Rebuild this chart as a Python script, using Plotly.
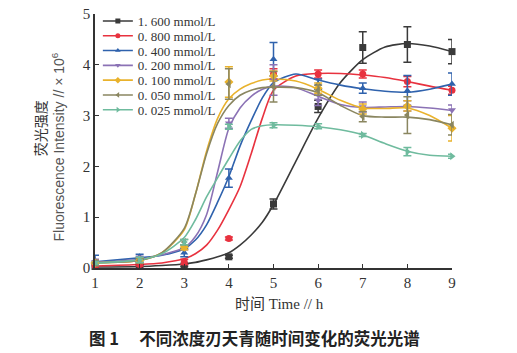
import plotly.graph_objects as go

# ---------------- data ----------------
times = [1, 2, 3, 4, 5, 6, 7, 8, 9]
series_names = ["1. 600 mmol/L", "0. 800 mmol/L", "0. 400 mmol/L", "0. 200 mmol/L",
                "0. 100 mmol/L", "0. 050 mmol/L", "0. 025 mmol/L"]

pts_1600 = [0.03, 0.04, 0.05, 0.22, 1.26, 3.18, 4.34, 4.40, 4.26]
pts_0800 = [0.05, 0.07, 0.12, 0.58, 3.82, 3.82, 3.82, 3.67, 3.50]
pts_0400 = [0.15, 0.22, 0.30, 1.77, 4.11, 3.62, 3.54, 3.49, 3.62]
pts_0200 = [0.12, 0.18, 0.41, 2.85, 3.70, 3.30, 3.17, 3.19, 3.11]
pts_0100 = [0.10, 0.15, 0.41, 3.66, 3.78, 3.54, 3.13, 3.19, 2.75]
pts_0050 = [0.10, 0.15, 0.51, 3.62, 3.57, 3.50, 2.98, 3.01, 2.82]
pts_0025 = [0.10, 0.16, 0.51, 2.78, 2.81, 2.79, 2.62, 2.29, 2.20]

err_1600 = [0.02, 0.02, 0.02, 0.03, 0.10, 0.12, 0.31, 0.35, 0.24]
err_0800 = [0.03, 0.03, 0.05, 0.03, 0.10, 0.08, 0.08, 0.10, 0.08]
err_0400 = [0.10, 0.05, 0.08, 0.18, 0.33, 0.10, 0.10, 0.30, 0.22]
err_0200 = [0.05, 0.05, 0.05, 0.10, 0.30, 0.10, 0.10, 0.10, 0.10]
err_0100 = [0.05, 0.05, 0.05, 0.30, 0.10, 0.10, 0.10, 0.10, 0.25]
err_0050 = [0.05, 0.05, 0.05, 0.30, 0.30, 0.10, 0.10, 0.36, 0.20]
err_0025 = [0.03, 0.05, 0.05, 0.05, 0.05, 0.05, 0.03, 0.08, 0.04]

# fitted curves (values at these times)
fit_t = [1, 2, 2.5, 3, 3.25, 3.5, 3.75, 4, 4.25, 4.5, 4.75, 5, 5.5, 6, 6.5, 7, 7.5, 8, 8.5, 9]
fit_1600 = [0.02, 0.03, 0.05, 0.08, 0.11, 0.16, 0.22, 0.30, 0.45, 0.65, 0.90, 1.25, 2.10, 2.95, 3.65, 4.10, 4.35, 4.42, 4.37, 4.26]
fit_0800 = [0.04, 0.07, 0.10, 0.18, 0.28, 0.45, 0.75, 1.15, 1.60, 2.25, 2.95, 3.50, 3.78, 3.83, 3.83, 3.80, 3.75, 3.67, 3.58, 3.50]
fit_0400 = [0.12, 0.20, 0.25, 0.38, 0.55, 0.85, 1.30, 1.80, 2.40, 2.90, 3.35, 3.65, 3.82, 3.70, 3.60, 3.53, 3.48, 3.46, 3.52, 3.62]
fit_0200 = [0.11, 0.17, 0.26, 0.40, 0.62, 1.05, 1.90, 2.75, 3.15, 3.38, 3.52, 3.58, 3.55, 3.38, 3.22, 3.16, 3.17, 3.18, 3.15, 3.10]
fit_0100 = [0.10, 0.15, 0.30, 0.75, 1.45, 2.30, 2.95, 3.33, 3.52, 3.63, 3.70, 3.72, 3.68, 3.52, 3.30, 3.15, 3.14, 3.15, 3.00, 2.75]
fit_0050 = [0.10, 0.15, 0.30, 0.78, 1.45, 2.25, 2.85, 3.20, 3.40, 3.50, 3.55, 3.56, 3.55, 3.45, 3.20, 3.00, 2.97, 2.97, 2.92, 2.82]
fit_0025 = [0.10, 0.16, 0.28, 0.60, 0.95, 1.40, 1.78, 2.15, 2.50, 2.73, 2.80, 2.82, 2.81, 2.78, 2.72, 2.62, 2.45, 2.30, 2.22, 2.20]

x_ticks = [1, 2, 3, 4, 5, 6, 7, 8, 9]
y_ticks = [0, 1, 2, 3, 4, 5]

# ---------------- styles ----------------
colors = ["#3a3a3a", "#e8323f", "#2f62ad", "#8b72b5", "#e9b22c", "#8a8660", "#6fbb9e"]
symbols = ["square", "circle", "triangle-up", "triangle-down", "diamond", "triangle-left", "triangle-right"]
points = [pts_1600, pts_0800, pts_0400, pts_0200, pts_0100, pts_0050, pts_0025]
errors = [err_1600, err_0800, err_0400, err_0200, err_0100, err_0050, err_0025]
fits = [fit_1600, fit_0800, fit_0400, fit_0200, fit_0100, fit_0050, fit_0025]

SERIF = "Liberation Serif, Times New Roman, serif"
SANS = "Liberation Sans, Arial, sans-serif"
CJK = "Noto Sans CJK SC, sans-serif"

fig = go.Figure()
# curves first (behind points)
for name, col, fy in zip(series_names, colors, fits):
    fig.add_trace(go.Scatter(x=fit_t, y=fy, mode="lines", showlegend=False,
                             line=dict(color=col, width=1.6, shape="spline", smoothing=0.7),
                             hoverinfo="skip"))
for name, col, sym, py, pe in zip(series_names, colors, symbols, points, errors):
    fig.add_trace(go.Scatter(x=times, y=py, mode="markers", showlegend=False, name=name,
                             marker=dict(color=col, symbol=sym, size=7),
                             error_y=dict(type="data", array=pe, visible=True, color=col,
                                          thickness=1.5, width=4),
                             cliponaxis=False))
# legend entries (line + marker)
for name, col, sym in zip(series_names, colors, symbols):
    fig.add_trace(go.Scatter(x=[None], y=[None], mode="lines+markers", name=name,
                             line=dict(color=col, width=1.6),
                             marker=dict(color=col, symbol=sym, size=5)))

axis_common = dict(showline=True, linecolor="#333333", linewidth=1.5, ticks="inside",
                   ticklen=4, tickwidth=1.3, tickcolor="#333333", showgrid=False,
                   zeroline=False, automargin=False,
                   tickfont=dict(family=SERIF, size=15, color="#333333"))

fig.update_layout(
    width=517, height=353,
    margin=dict(l=95, r=65, t=14, b=85, autoexpand=False),
    paper_bgcolor="white", plot_bgcolor="white",
    xaxis=dict(range=[1, 9], tickvals=x_ticks, **axis_common),
    yaxis=dict(range=[0, 5], tickvals=y_ticks, **axis_common),
    legend=dict(x=0.008, y=1.0, xanchor="left", yanchor="top",
                bgcolor="rgba(0,0,0,0)", borderwidth=0,
                font=dict(family=SERIF, size=13, color="#333333"),
                itemwidth=30, tracegroupgap=0),
    showlegend=True,
)

fig.add_annotation(text="荧光强度", xref="paper", yref="paper", x=-0.154, y=0.55,
                   xanchor="center", yanchor="middle", textangle=-90, showarrow=False,
                   font=dict(family=CJK, size=14, color="#333333"))
fig.add_annotation(text="Fluorescence Intensity // × 10<sup>6</sup>", xref="paper", yref="paper",
                   x=-0.104, y=0.478, xanchor="center", yanchor="middle",
                   textangle=-90, showarrow=False,
                   font=dict(family=SANS, size=14, color="#555555"))
fig.add_annotation(text="<span style='font-family:Noto Sans CJK SC'>时间</span> Time // h",
                   xref="paper", yref="paper", x=0.518, y=-0.134,
                   xanchor="center", yanchor="middle", showarrow=False,
                   font=dict(family=SERIF, size=15, color="#333333"))
fig.add_annotation(text="<b>图 1　 不同浓度刃天青随时间变化的荧光光谱</b>",
                   xref="paper", yref="paper", x=0.447, y=-0.276,
                   xanchor="center", yanchor="middle", showarrow=False,
                   font=dict(family=CJK, size=16.5, color="#222222"))

post = """
var gd = document.getElementById('{plot_id}');
function fixLegend(){
  var items = gd.querySelectorAll('.legend .traces');
  var y0 = null;
  items.forEach(function(el, i){
    var t = el.getAttribute('transform') || '';
    var m = /translate\\(([-\\d.e]+)[ ,]+([-\\d.e]+)\\)/.exec(t);
    if(!m) return;
    var x = parseFloat(m[1]), y = parseFloat(m[2]);
    if(y0 === null) y0 = y - 8;
    el.setAttribute('transform', 'translate(' + x + ',' + (y0 + i * 14.8) + ')');
  });
}
fixLegend();
"""

fig.write_html("out.html", post_script=post)
